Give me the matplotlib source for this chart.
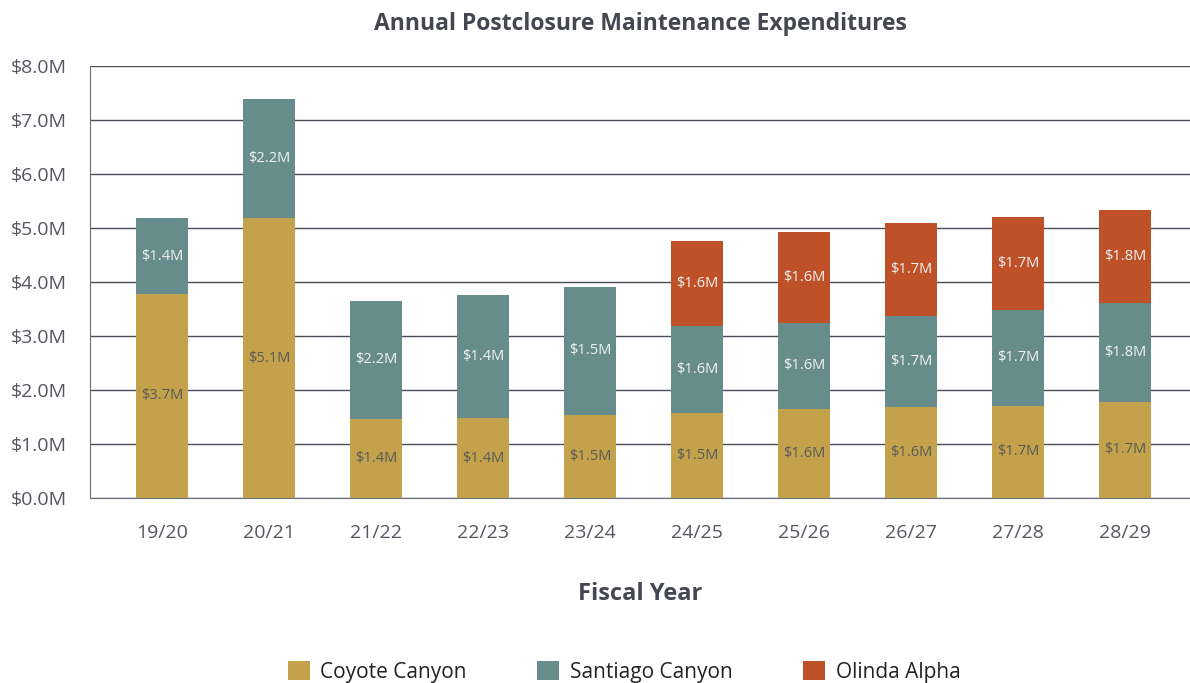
import matplotlib
matplotlib.use("Agg")
import matplotlib.pyplot as plt
import numpy as np
from matplotlib.patches import Patch

years = ["19/20", "20/21", "21/22", "22/23", "23/24", "24/25", "25/26", "26/27", "27/28", "28/29"]
coyote = [3.78, 5.18, 1.47, 1.48, 1.54, 1.58, 1.65, 1.69, 1.71, 1.78]
santiago = [1.40, 2.20, 2.18, 2.28, 2.37, 1.61, 1.59, 1.68, 1.77, 1.83]
olinda = [0, 0, 0, 0, 0, 1.57, 1.69, 1.72, 1.72, 1.72]
coyote_labels = ["$3.7M", "$5.1M", "$1.4M", "$1.4M", "$1.5M", "$1.5M", "$1.6M", "$1.6M", "$1.7M", "$1.7M"]
santiago_labels = ["$1.4M", "$2.2M", "$2.2M", "$1.4M", "$1.5M", "$1.6M", "$1.6M", "$1.7M", "$1.7M", "$1.8M"]
olinda_labels = ["", "", "", "", "", "$1.6M", "$1.6M", "$1.7M", "$1.7M", "$1.8M"]
series_names = ["Coyote Canyon", "Santiago Canyon", "Olinda Alpha"]
colors = ["#C4A24C", "#668C8C", "#BE5128"]
yticks = [0, 1, 2, 3, 4, 5, 6, 7, 8]

plt.rcParams['font.family'] = ['Open Sans', 'DejaVu Sans']

W, H = 1190, 683
fig = plt.figure(figsize=(W / 100, H / 100), dpi=100)
ax = fig.add_axes([90 / W, 1 - 498 / H, 1 - 90 / W, (498 - 66) / H])

x = np.arange(len(years))
bw = 0.49
c = np.array(coyote)
s = np.array(santiago)
o = np.array(olinda)
ax.bar(x, c, bw, color=colors[0], zorder=3)
ax.bar(x, s, bw, bottom=c, color=colors[1], zorder=3)
ax.bar(x, o, bw, bottom=c + s, color=colors[2], zorder=3)

lab_fs = 10.5
for i in range(len(years)):
    ax.text(x[i], c[i] / 2, coyote_labels[i], ha='center', va='center',
            color='#5a5a5a', fontsize=lab_fs, zorder=4)
    ax.text(x[i], c[i] + s[i] / 2, santiago_labels[i], ha='center', va='center',
            color='#f2f2f2', fontsize=lab_fs, zorder=4)
    if o[i] > 0:
        ax.text(x[i], c[i] + s[i] + o[i] / 2, olinda_labels[i], ha='center', va='center',
                color='#f2f2f2', fontsize=lab_fs, zorder=4)

ax.set_xlim(-0.673, 9.607)
ax.set_ylim(0, 8)
ax.set_yticks(yticks)
ax.set_yticklabels([f"${v:.1f}M" for v in yticks])
ax.set_xticks(x)
ax.set_xticklabels(years)
ax.yaxis.grid(True, color='#4a4d57', linewidth=1.0, zorder=0)
ax.set_axisbelow(True)
for sp in ['top', 'right']:
    ax.spines[sp].set_visible(False)
ax.spines['left'].set_color('#6b6e78')
ax.spines['bottom'].set_color('#6b6e78')
ax.tick_params(axis='both', length=0, labelsize=14, colors='#555760')
ax.tick_params(axis='x', pad=19)
ax.tick_params(axis='y', pad=17)

fig.text(640 / W, 1 - 24 / H, "Annual Postclosure Maintenance Expenditures",
         ha='center', va='center', fontsize=16.5, fontweight='bold', color='#444650')
fig.text(640 / W, 1 - 594 / H, "Fiscal Year", ha='center', va='center',
         fontsize=17, fontweight='bold', color='#444650')

handles = [Patch(facecolor=col, label=n) for col, n in zip(colors, series_names)]
fig.legend(handles=handles, loc='center', bbox_to_anchor=(624 / W, 1 - 672 / H), ncol=3,
           frameon=False, fontsize=15, handlelength=1.05, handleheight=1.05,
           columnspacing=3.4, handletextpad=0.5, labelcolor='#222222')

fig.savefig("out.png", dpi=100)
